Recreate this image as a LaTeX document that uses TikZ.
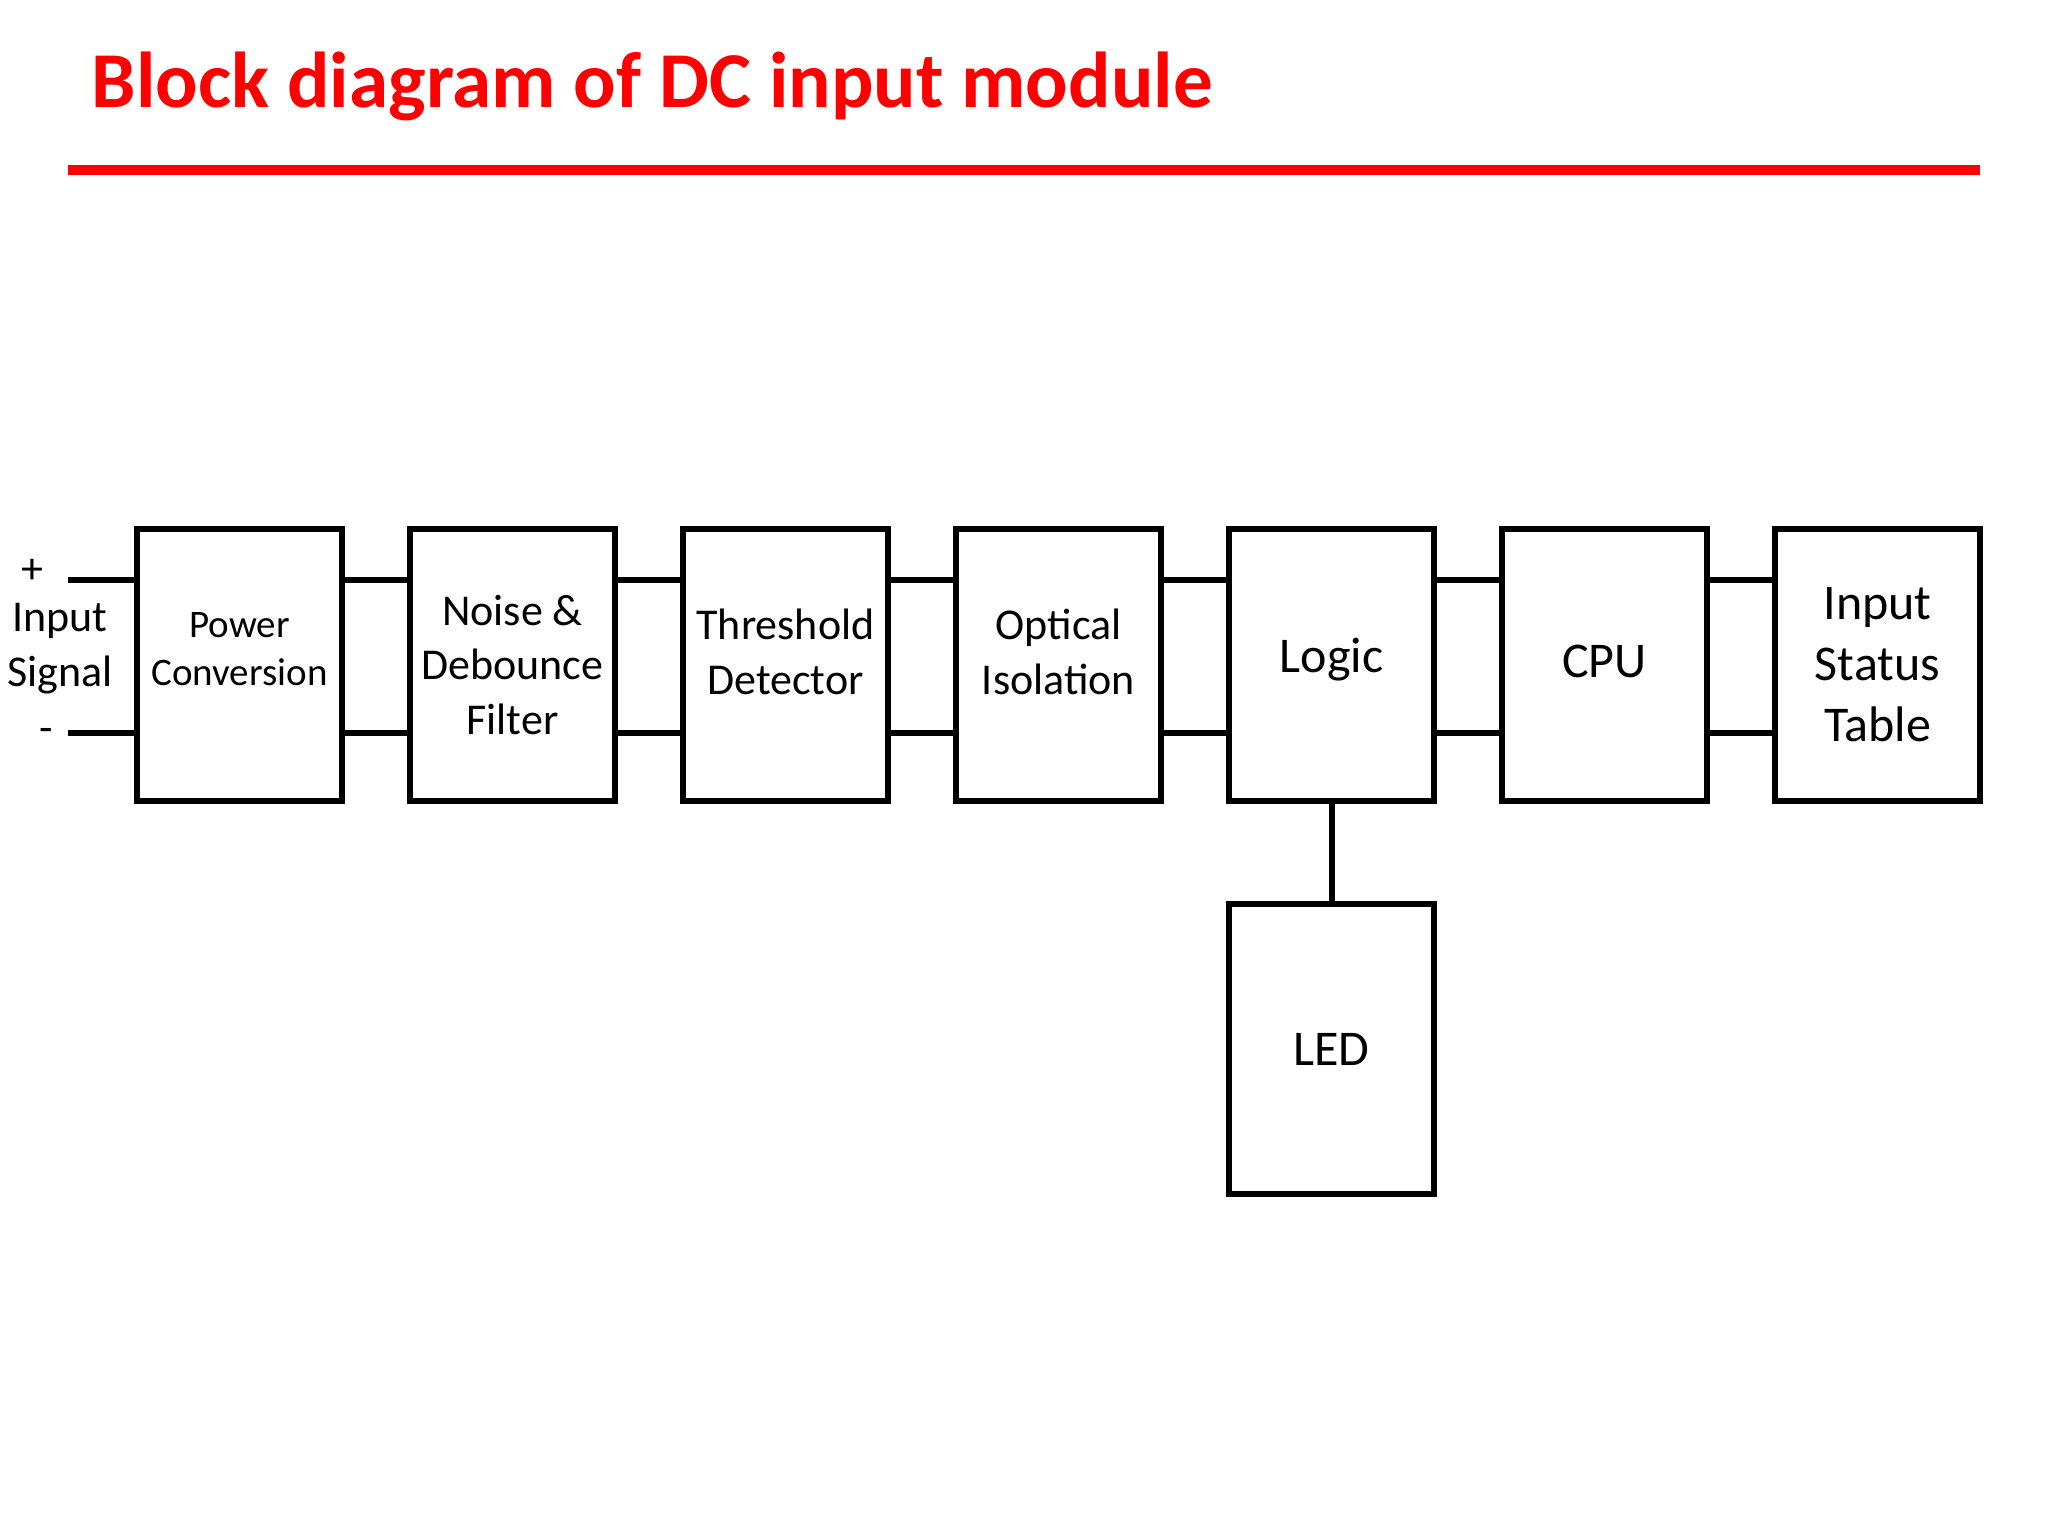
\documentclass[tikz,border=0pt]{standalone}
\usepackage{fontspec}
\setmainfont{Carlito}
\usetikzlibrary{positioning}

\begin{document}
\begin{tikzpicture}[
        node distance = 31pt and 31pt,
        block/.style = {draw, line width=3pt, minimum width=102.5pt, minimum height=136pt, inner sep=0pt, align=center},
        lift/.style = {text depth=#1},
        small/.style = {font=\fontsize{19.5}{24}\selectfont},
        mid/.style = {font=\fontsize{22}{27.4}\selectfont},
        big/.style = {font=\fontsize{25}{30.5}\selectfont},
        wire/.style = {line width=3pt},
    ]
    \useasboundingbox (0,0) rectangle (1024pt,-768pt);
    % title and rule
    \node[anchor=base west, inner sep=0pt, text=red, font=\fontsize{39.6}{48}\selectfont\bfseries] (title) at (45.7pt,-53.5pt) {Block diagram of DC input module};
    \coordinate (rl) at (34pt,-85pt);
    \coordinate (rr) at (990pt,-85pt);
    \draw[red, line width=4.6pt] (rl) -- (rr);
    % blocks
    \node[block, small, lift=15.6pt] (pc) at (119.75pt,-332.5pt) {Power\\Conversion};
    \node[block, mid, right=of pc] (nf) {Noise \&\\Debounce\\Filter};
    \node[block, mid, lift=13pt, right=of nf] (td) {Threshold\\Detector};
    \node[block, mid, lift=13pt, right=of td] (oi) {Optical\\Isolation};
    \node[block, big, lift=10.2pt, right=of oi] (lg) {Logic};
    \node[block, big, lift=4pt, right=of lg] (cpu) {CPU};
    \node[block, big, right=of cpu] (ist) {Input\\Status\\Table};
    \node[block, big, below=48.5pt of lg, minimum height=145pt] (led) {LED};
    % input terminals
    \coordinate (inp) at (34pt,-290pt);
    \coordinate (inm) at (34pt,-366.5pt);
    \node[mid] (plus) at (16.3pt,-285.5pt) {+};
    \node[mid, align=center, inner sep=0pt] (insig) at (30pt,-324.3pt) {Input\\Signal};
    \node[mid] (minus) at (22.9pt,-367.8pt) {-};
    \draw[wire] (inp) -- (pc.west |- inp);
    \draw[wire] (inm) -- (pc.west |- inm);
    % links between blocks
    \foreach \a/\b in {pc/nf, nf/td, td/oi, oi/lg, lg/cpu, cpu/ist} {
        \draw[wire] (\a.east |- inp) -- (\b.west |- inp);
        \draw[wire] (\a.east |- inm) -- (\b.west |- inm);
    }
    \draw[wire] (lg.south) -- (led.north);
\end{tikzpicture}
\end{document}
